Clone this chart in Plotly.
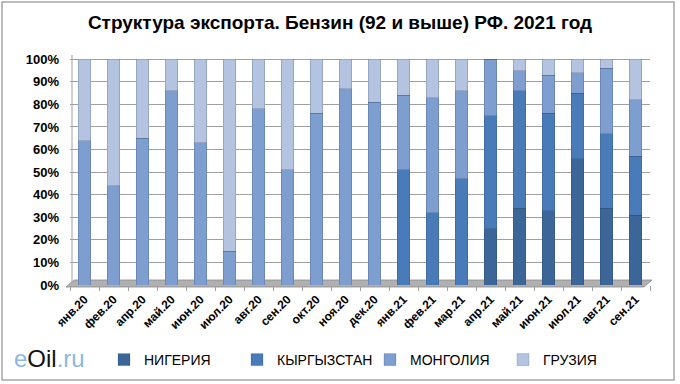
import plotly.graph_objects as go

categories = ["янв.20", "фев.20", "апр.20", "май.20", "июн.20", "июл.20", "авг.20", "сен.20",
              "окт.20", "ноя.20", "дек.20", "янв.21", "фев.21", "мар.21", "апр.21", "май.21",
              "июн.21", "июл.21", "авг.21", "сен.21"]
nigeria    = [0, 0, 0, 0, 0, 0, 0, 0, 0, 0, 0, 0, 0, 0, 25, 34, 33, 56, 34, 31]
kyrgyzstan = [0, 0, 0, 0, 0, 0, 0, 0, 0, 0, 0, 51, 32, 47, 50, 52, 43, 29, 33, 26]
mongolia   = [64, 44, 65, 86, 63, 15, 78, 51, 76, 87, 81, 33, 51, 39, 25, 9, 17, 9, 29, 25]
georgia    = [36, 56, 35, 14, 37, 85, 22, 49, 24, 13, 19, 16, 17, 14, 0, 5, 7, 6, 4, 18]

series = [("НИГЕРИЯ", nigeria, "#3b6697"),
          ("КЫРГЫЗСТАН", kyrgyzstan, "#4a7bb9"),
          ("МОНГОЛИЯ", mongolia, "#7e9ecf"),
          ("ГРУЗИЯ", georgia, "#b4c4e0")]

W, H = 680, 384
L, R, T, B = 70, 30, 57, 99
pw, ph = W - L - R, H - T - B

def px(x):
    return (x - L) / pw

def py(y):
    return (H - B - y) / ph

fig = go.Figure()
for name, vals, color in series:
    fig.add_trace(go.Bar(x=categories, y=vals, name=name,
                         marker=dict(color=color, line=dict(color="rgba(40,60,90,0.35)", width=0.6))))

shapes = [
    dict(type="path", xref="paper", yref="paper",
         path=f"M {px(66)} {py(287)} L {px(74)} {py(280)} L {px(652)} {py(280)} L {px(644)} {py(287)} Z",
         fillcolor="#b0b0b0", line=dict(color="#8c8c8c", width=0.8), layer="below"),
    dict(type="line", xref="paper", yref="paper", x0=px(72), x1=px(72), y0=py(282), y1=py(55),
         line=dict(color="#a0a0a0", width=1), layer="below"),
    dict(type="rect", xref="paper", yref="paper", x0=px(2), x1=px(674), y0=py(380), y1=py(2),
         line=dict(color="#a6a6a6", width=1.5), fillcolor="rgba(0,0,0,0)"),
]

fig.update_layout(
    width=W, height=H,
    margin=dict(l=L, r=R, t=T, b=B, autoexpand=False),
    barmode="stack",
    bargap=0.58,
    paper_bgcolor="white", plot_bgcolor="white",
    font=dict(family="Arial, Liberation Sans", color="black"),
    title=dict(text="<b>Структура экспорта. Бензин (92 и выше) РФ. 2021 год</b>",
               x=0.5, xanchor="center", y=1 - 22 / H, yanchor="middle",
               font=dict(size=19, family="Arial, Liberation Sans")),
    xaxis=dict(tickangle=-45, tickvals=categories, ticktext=[f"<b>{c}</b>" for c in categories],
               tickfont=dict(size=12, family="Arial, Liberation Sans"),
               showgrid=False, showline=False, ticks="outside", ticklen=5, tickcolor="#a0a0a0",
               tickson="boundaries", ticklabelstandoff=4, automargin=False),
    yaxis=dict(range=[0, 101], tickvals=list(range(0, 101, 10)),
               ticktext=[f"<b>{v}%</b>" for v in range(0, 101, 10)],
               tickfont=dict(size=13), gridcolor="#a0a0a0", gridwidth=1,
               showline=False, zeroline=False, ticks="", automargin=False, ticklabelstandoff=10),
    legend=dict(orientation="h", x=px(104), xanchor="left", y=py(360), yanchor="middle",
                traceorder="normal", font=dict(size=14), entrywidth=88, itemwidth=30),
    shapes=shapes,
    annotations=[dict(xref="paper", yref="paper", x=px(12), y=py(358), xanchor="left", yanchor="middle",
                      showarrow=False,
                      text="<span style='color:#8ab8e0'>e</span><span style='color:#111'>Oil</span><span style='color:#8ab8e0'>.ru</span>",
                      font=dict(size=24, family="Arial, Liberation Sans"))],
)

fig.write_html("out.html", config={"displayModeBar": False},
               post_script="document.body.style.margin='0';")
